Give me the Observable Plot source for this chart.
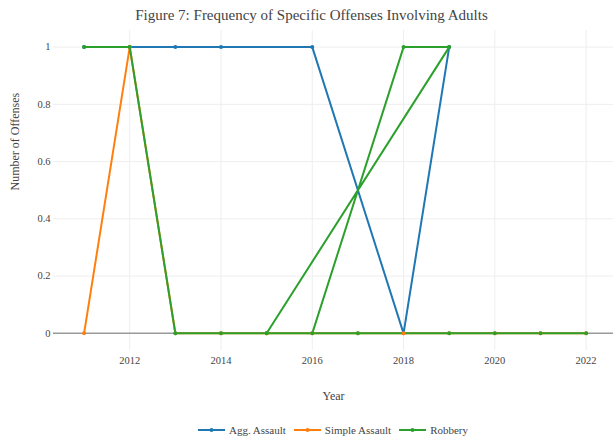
<!DOCTYPE html>
<html><head><meta charset="utf-8">
<script src="https://cdn.jsdelivr.net/npm/d3@7"></script>
<script src="https://cdn.jsdelivr.net/npm/@observablehq/plot@0.6"></script>
<style>
body{margin:0;background:#fff;font-family:"Liberation Serif","Times New Roman",serif;color:#444;}
#title{height:30px;line-height:30px;text-align:center;font-size:15px;padding-left:10px;width:603px;}
#legend{display:flex;justify-content:center;align-items:center;height:30px;padding-left:53px;width:560px;font-size:11px;font-family:"Liberation Serif",serif;}
.item{display:flex;align-items:center;margin:0 4px;}
.item svg{margin-right:4px;}
#chart svg text{font-family:"Liberation Serif",serif;}
</style></head><body>
<div id="title">Figure 7: Frequency of Specific Offenses Involving Adults</div>
<div id="chart"></div>
<div id="legend"></div>
<script>
const seriesNames = ["Agg. Assault", "Simple Assault", "Robbery"];
const seriesColors = ["#1f77b4", "#ff7f0e", "#2ca02c"];
const aggYears = [2011, 2012, 2013, 2014, 2016, 2018, 2019];
const aggCounts = [1, 1, 1, 1, 1, 0, 1];
const simpleYears = [2011, 2012, 2013, 2014, 2015, 2016, 2017, 2018, 2019, 2020, 2021, 2022];
const simpleCounts = [0, 1, 0, 0, 0, 0, 0, 0, 0, 0, 0, 0];
const robberyYears = [2011, 2012, 2013, 2014, 2015, 2016, 2018, 2019, 2015, 2017, 2019, 2020, 2021, 2022];
const robberyCounts = [1, 1, 0, 0, 0, 0, 1, 1, 0, 0, 0, 0, 0, 0];
const xTicks = [2012, 2014, 2016, 2018, 2020, 2022];
const yTicks = [0, 0.2, 0.4, 0.6, 0.8, 1];
const yTickLabels = ["0", "0.2", "0.4", "0.6", "0.8", "1"];

const rows = [];
[[aggYears, aggCounts], [simpleYears, simpleCounts], [robberyYears, robberyCounts]].forEach(([ys, cs], k) => {
  ys.forEach((y, i) => rows.push({series: seriesNames[k], year: y, count: cs[i]}));
});

const chart = Plot.plot({
  width: 613, height: 385,
  marginTop: 0, marginLeft: 53, marginRight: 0, marginBottom: 65,
  style: {fontFamily: "'Liberation Serif', serif", fontSize: "10.5px", color: "#444", background: "#fff"},
  x: {domain: [2010.33, 2022.6], ticks: xTicks, tickFormat: d => String(d), tickSize: 0, tickPadding: 6, label: null},
  y: {domain: [-0.06, 1.058], ticks: yTicks, tickFormat: d => yTickLabels[yTicks.indexOf(d)], tickSize: 0, tickPadding: 3, label: null},
  color: {domain: seriesNames, range: seriesColors},
  marks: [
    Plot.gridX(xTicks, {stroke: "#eee", strokeOpacity: 1}),
    Plot.gridY(yTicks.filter(d => d !== 0), {stroke: "#eee", strokeOpacity: 1}),
    Plot.ruleY([0], {stroke: "#999", strokeWidth: 1.5}),
    Plot.line(rows, {x: "year", y: "count", z: "series", stroke: "series", strokeWidth: 2}),
    Plot.dot(rows, {x: "year", y: "count", fill: "series", r: 2}),
    Plot.text(["Number of Offenses"], {frameAnchor: "left", dx: -38, rotate: -90, fontSize: 12, text: d => d}),
    Plot.text(["Year"], {frameAnchor: "bottom", dy: 49, fontSize: 12, text: d => d})
  ]
});
document.getElementById("chart").appendChild(chart);

const legend = document.getElementById("legend");
seriesNames.forEach((name, i) => {
  const item = document.createElement("div");
  item.className = "item";
  item.innerHTML = `<svg width="27" height="10"><line x1="0" x2="27" y1="5" y2="5" stroke="${seriesColors[i]}" stroke-width="2"/><circle cx="13.5" cy="5" r="2" fill="${seriesColors[i]}"/></svg><span>${name}</span>`;
  legend.appendChild(item);
});
</script>
</body></html>
